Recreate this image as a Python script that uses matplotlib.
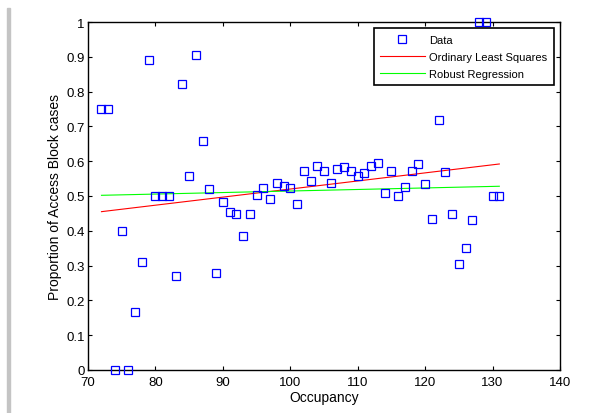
import numpy as np
import matplotlib
matplotlib.use("Agg")
import matplotlib.pyplot as plt

plt.rcParams['font.family'] = ['Liberation Sans', 'DejaVu Sans']

occupancy = list(range(72, 132))
proportion = [0.75, 0.75, 0.0, 0.40, 0.0, 0.167, 0.31, 0.89, 0.50, 0.50,
              0.50, 0.269, 0.821, 0.557, 0.905, 0.658, 0.521, 0.279, 0.484, 0.455,
              0.449, 0.384, 0.449, 0.503, 0.524, 0.492, 0.536, 0.530, 0.524, 0.478,
              0.572, 0.544, 0.587, 0.572, 0.538, 0.577, 0.582, 0.572, 0.558, 0.566,
              0.587, 0.595, 0.509, 0.572, 0.50, 0.526, 0.572, 0.593, 0.534, 0.434,
              0.717, 0.569, 0.447, 0.304, 0.350, 0.430, 1.0, 1.0, 0.50, 0.50]

# fitted lines (value at first and last occupancy)
ols_ends = [0.455, 0.592]
robust_ends = [0.502, 0.528]

x_ticks = [70, 80, 90, 100, 110, 120, 130, 140]
y_ticks = [0, 0.1, 0.2, 0.3, 0.4, 0.5, 0.6, 0.7, 0.8, 0.9, 1.0]
y_tick_labels = ['0', '0.1', '0.2', '0.3', '0.4', '0.5', '0.6', '0.7', '0.8', '0.9', '1']

x = np.array(occupancy, dtype=float)
def line_through(ends):
    slope = (ends[1] - ends[0]) / (x[-1] - x[0])
    return ends[0] + slope * (x - x[0])

fig = plt.figure(figsize=(6.13, 4.14), dpi=100)
fig.patches.append(matplotlib.patches.Rectangle((7/613, 0), 3/613, 1 - 9/414,
                   transform=fig.transFigure, color='#c4c4c4', zorder=0))
ax = fig.add_axes([88/613, 1 - 371/414, (560-88)/613, (371-23)/414])

ax.plot(x, proportion, linestyle='none', marker='s', markersize=5.5,
        markerfacecolor='none', markeredgecolor='#0000ff', markeredgewidth=0.9,
        label='Data', clip_on=False, zorder=3)
ax.plot(x, line_through(ols_ends), color='#ff0000', lw=0.8, label='Ordinary Least Squares')
ax.plot(x, line_through(robust_ends), color='#00ff00', lw=0.8, label='Robust Regression')

ax.set_xlim(70, 140)
ax.set_ylim(0, 1)
ax.set_xticks(x_ticks)
ax.set_yticks(y_ticks)
ax.set_yticklabels(y_tick_labels)
ax.tick_params(direction='in', top=True, right=True, length=3, width=0.8,
               labelsize=9.5)
ax.tick_params(axis='x', pad=4)
ax.tick_params(axis='y', pad=2.5)
for s in ax.spines.values():
    s.set_linewidth(1.0)
ax.set_xlabel('Occupancy', fontsize=10, labelpad=2)
ax.set_ylabel('Proportion of Access Block cases', fontsize=10, labelpad=3)

leg = ax.legend(loc='upper right', bbox_to_anchor=(0.987, 0.982), fontsize=8,
                frameon=True, fancybox=False, framealpha=1, edgecolor='black',
                borderpad=0.6, handlelength=4.0, labelspacing=0.62, handletextpad=0.4,
                borderaxespad=0)
leg.get_frame().set_linewidth(1.2)

fig.savefig('out.png', dpi=100)
